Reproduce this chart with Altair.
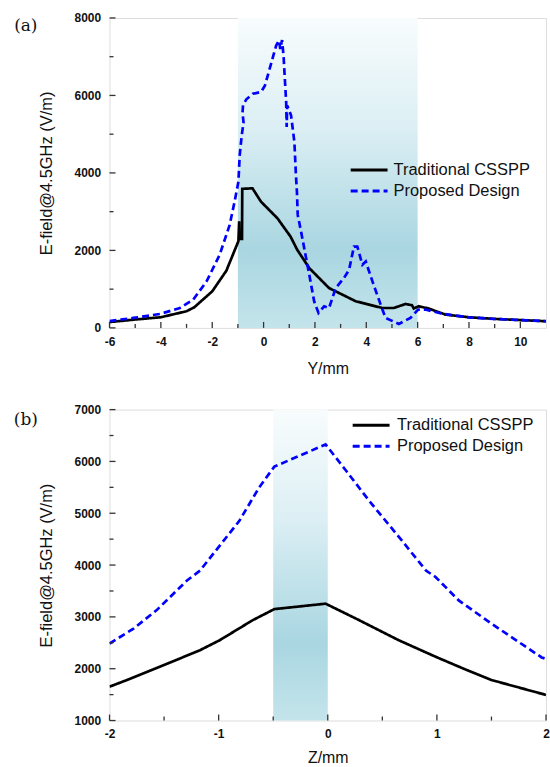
import altair as alt
import pandas as pd

# ---------------- data: panel (a) ----------------
a_trad_x = [-6, -5, -4, -3, -2.7, -2, -1.45, -0.98, -0.95, -0.94, -0.84, -0.83, -0.5,
            -0.43, -0.1, 0.54, 1.05, 1.31, 1.78, 2.55, 3.59, 4.62, 5.07, 5.53, 5.78,
            5.85, 6.04, 6.43, 7.08, 7.98, 9.0, 11]
a_trad_y = [150, 216, 275, 430, 532, 943, 1475, 2240, 2750, 2300, 2300, 3590, 3600,
            3600, 3257, 2829, 2357, 2016, 1543, 1028, 687, 514, 514, 617, 584,
            500, 558, 499, 344, 275, 232, 172]

a_prop_x = [-6, -5.07, -4.03, -3.26, -2.74, -2.22, -1.71, -1.32, -1.13, -0.98, -0.93,
            -0.85, -0.78, -0.82, -0.8, -0.67, -0.42, -0.1, 0.05, 0.29, 0.49, 0.6,
            0.65, 0.72, 0.78, 0.83, 0.88, 0.9, 0.92, 1.07, 1.2, 1.26, 1.3, 1.33,
            1.46, 1.78, 1.97, 2.14, 2.36, 2.55, 2.81, 3.13, 3.33, 3.52, 3.65, 3.85,
            3.98, 4.24, 4.56, 4.75, 5.27, 5.72, 6.02, 6.3, 7.0, 8.0, 9.0, 11]
a_prop_y = [175, 257, 360, 514, 730, 1200, 1887, 2659, 3257, 3772, 4459,
            4973, 5300, 5550, 5750, 5900, 6043, 6090, 6250, 6814, 7287, 7420,
            7200, 7430, 7000, 6400, 5829, 5186, 5743, 5486, 4800, 3944, 3500, 2916,
            2486, 1373, 687, 386, 558, 514, 1028, 1286, 1500, 2100, 2100, 1630,
            1715, 1200, 600, 257, 103, 257, 473, 473, 360, 270, 230, 172]

# ---------------- data: panel (b) ----------------
b_trad_x = [-2, -1.84, -1.54, -1.17, -0.99, -0.69, -0.49, -0.02, 0.29, 0.65, 0.99, 1.26, 1.5, 2.0]
b_trad_y = [1653, 1782, 2037, 2358, 2550, 2934, 3150, 3255, 2934, 2550, 2229, 1987, 1782, 1494]

b_prop_x = [-2, -1.78, -1.57, -1.29, -1.17, -1.05, -0.81, -0.63, -0.49, -0.02, 0.17,
            0.38, 0.68, 0.9, 0.99, 1.2, 1.5, 1.96, 2.0]
b_prop_y = [2486, 2774, 3126, 3702, 3894, 4215, 4854, 5494, 5900, 6327, 5815,
            5238, 4470, 3894, 3766, 3318, 2870, 2218, 2190]

series_names = ["Traditional CSSPP", "Proposed Design"]
series_colors = ["#000000", "#0000ff"]
series_dash = [[1, 0], [7, 4]]

# shaded regions
a_band = [-1, 6]
b_band = [-0.5, 0]

# ticks
a_x_major = [-6, -4, -2, 0, 2, 4, 6, 8, 10]
a_x_minor = [-5, -3, -1, 1, 3, 5, 7, 9]
a_y_major = [0, 2000, 4000, 6000, 8000]
a_y_minor = [1000, 3000, 5000, 7000]
b_x_major = [-2, -1, 0, 1, 2]
b_x_minor = [-1.5, -0.5, 0.5, 1.5]
b_y_major = [1000, 2000, 3000, 4000, 5000, 6000, 7000]
b_y_minor = [1500, 2500, 3500, 4500, 5500, 6500]

W = 438
H_A = 311
H_B = 312
FONT = "Liberation Sans"

gradient = {
    "gradient": "linear", "x1": 0, "x2": 0, "y1": 0, "y2": 1,
    "stops": [
        {"offset": 0.0, "color": "#f8fcfd"},
        {"offset": 0.35, "color": "#dceff4"},
        {"offset": 0.75, "color": "#a9d6e1"},
        {"offset": 1.0, "color": "#c4e4eb"},
    ],
}


def series_df(tx, ty, px, py):
    rows = []
    for i, (x, y) in enumerate(zip(tx, ty)):
        rows.append({"x": x, "y": y, "s": series_names[0], "i": i})
    for i, (x, y) in enumerate(zip(px, py)):
        rows.append({"x": x, "y": y, "s": series_names[1], "i": i})
    return pd.DataFrame(rows)


def panel(df, band, xdom, ydom, xmaj, xmin, ymaj, ymin, H, xtitle, xtitlepad, tag, tagy, leg):
    xs = alt.Scale(domain=xdom, nice=False, zero=False)
    ys = alt.Scale(domain=ydom, nice=False, zero=False)
    xaxis = alt.Axis(values=xmaj, ticks=False, domain=False, grid=False, title=xtitle,
                     labelExpr="datum.value + ''",
                     labelFont=FONT, labelFontWeight="bold", labelFontSize=12,
                     labelColor="#111", labelPadding=8.5, titleFont=FONT,
                     titleFontSize=16, titleFontWeight="normal", titlePadding=xtitlepad,
                     titleColor="#111", labelFlush=False)
    yaxis = alt.Axis(values=ymaj, ticks=False, domain=False, grid=False,
                     title="E-field@4.5GHz (V/m)", labelExpr="datum.value + ''",
                     labelFont=FONT, labelFontWeight="bold", labelFontSize=12,
                     labelColor="#111", labelPadding=9, titleFont=FONT,
                     titleFontSize=16.5, titleFontWeight="normal", titlePadding=20,
                     titleColor="#111", labelFlush=False)

    band_df = pd.DataFrame({"x": [band[0]], "x2": [band[1]], "y": [ydom[0]], "y2": [ydom[1]]})
    band_layer = alt.Chart(band_df).mark_rect(color=gradient).encode(
        x=alt.X("x:Q", scale=xs, axis=xaxis),
        x2="x2:Q",
        y=alt.Y("y:Q", scale=ys, axis=yaxis),
        y2="y2:Q",
    )

    lines = alt.Chart(df).mark_line(strokeWidth=2.7, clip=True).encode(
        x=alt.X("x:Q", scale=xs),
        y=alt.Y("y:Q", scale=ys),
        order=alt.Order("i:Q"),
        color=alt.Color("s:N", scale=alt.Scale(domain=series_names, range=series_colors), legend=None),
        strokeDash=alt.StrokeDash("s:N", scale=alt.Scale(domain=series_names, range=series_dash), legend=None),
    )

    def xticks(vals, length):
        return alt.Chart(pd.DataFrame({"v": vals})).mark_rule(color="#333", strokeWidth=1.3).encode(
            x=alt.X("v:Q", scale=xs), y=alt.value(H), y2=alt.value(H - length))

    def yticks(vals, length):
        return alt.Chart(pd.DataFrame({"v": vals})).mark_rule(color="#333", strokeWidth=1.3).encode(
            y=alt.Y("v:Q", scale=ys), x=alt.value(0), x2=alt.value(length))

    label = alt.Chart(pd.DataFrame({"t": [tag]})).mark_text(
        font="DejaVu Serif", fontSize=17, color="#111", align="center", baseline="middle"
    ).encode(x=alt.value(-84), y=alt.value(tagy), text="t:N")

    # legend (drawn as a small key inside the plot)
    lx0, lx1, ltx, ly0, ly1 = leg
    legend_layers = []
    for name, col, dash, ly in zip(series_names, series_colors, series_dash, [ly0, ly1]):
        ldf = pd.DataFrame({"s": [name]})
        legend_layers.append(
            alt.Chart(ldf).mark_rule(color=col, strokeDash=dash, strokeWidth=3).encode(
                x=alt.value(lx0), x2=alt.value(lx1), y=alt.value(ly)))
        legend_layers.append(
            alt.Chart(ldf).mark_text(font=FONT, fontSize=16.5, color="#111", align="left",
                                     baseline="middle").encode(
                x=alt.value(ltx), y=alt.value(ly), text="s:N"))

    return alt.layer(
        band_layer, lines,
        xticks(xmaj, 6), xticks(xmin, 4), yticks(ymaj, 6), yticks(ymin, 4),
        label, *legend_layers,
    ).properties(width=W, height=H)


df_a = series_df(a_trad_x, a_trad_y, a_prop_x, a_prop_y)
df_b = series_df(b_trad_x, b_trad_y, b_prop_x, b_prop_y)

top = panel(df_a, a_band, [-6, 11], [0, 8000], a_x_major, a_x_minor, a_y_major, a_y_minor,
            H_A, "Y/mm", 13, "(a)", 8.3, (242, 279, 285, 152.6, 173.6))
bottom = panel(df_b, b_band, [-2, 2], [1000, 7000], b_x_major, b_x_minor, b_y_major, b_y_minor,
               H_B, "Z/mm", 10, "(b)", 10, (244, 281, 288.5, 15.7, 36.7))

chart = alt.vconcat(top, bottom, spacing=26).resolve_scale(
    color="independent", strokeDash="independent"
).properties(
    padding={"left": 12.9, "top": 9.7, "right": 0, "bottom": 0},
).configure_view(stroke="#333", strokeWidth=1.5).configure(background="white")

chart.save("out.html", embed_options={"renderer": "svg", "actions": False})
